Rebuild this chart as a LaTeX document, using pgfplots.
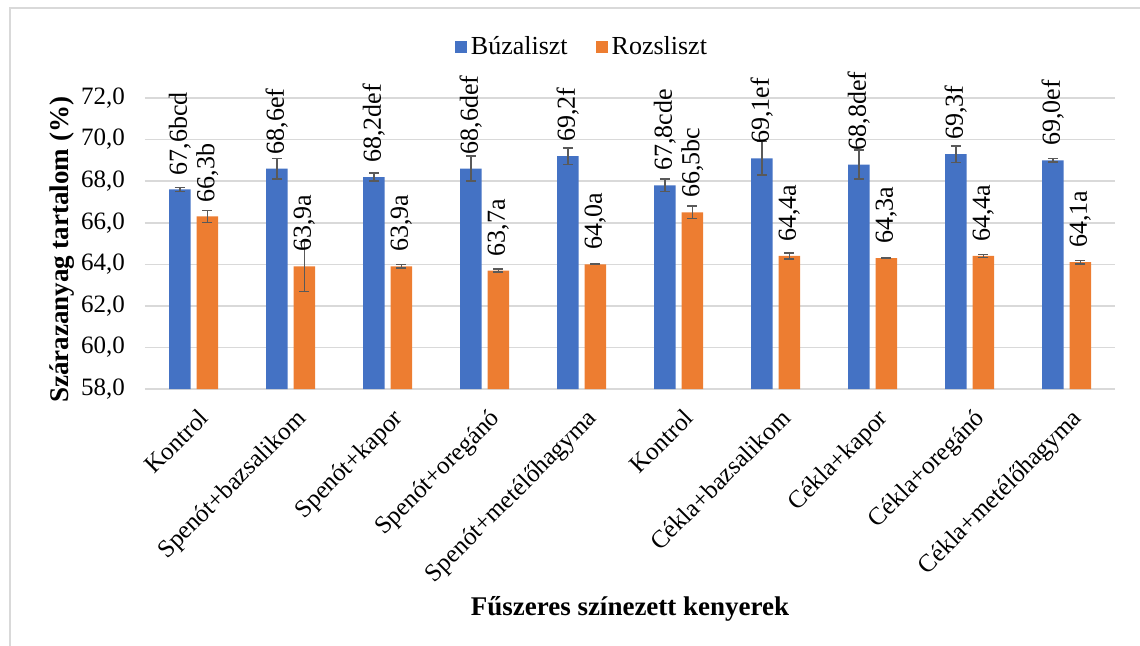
\documentclass[border=0pt]{standalone}
\usepackage{pgfplots}
\pgfplotsset{compat=1.18}
\usepackage{fontspec}
\setmainfont{Liberation Serif}
\definecolor{cblue}{HTML}{4472C4}
\definecolor{corange}{HTML}{ED7D31}
\definecolor{cgrid}{HTML}{D9D9D9}
\definecolor{cerr}{HTML}{595959}
\begin{document}
\begin{tikzpicture}
\useasboundingbox (0,0) rectangle (570pt,-322.5pt);
\draw[cgrid, line width=0.8pt] (5pt,-4pt) rectangle (600pt,-340pt);
\begin{axis}[
  at={(72.5pt,-194.5pt)}, anchor=south west,
  scale only axis, width=485pt, height=145.5pt,
  xmin=-0.5, xmax=9.5, ymin=58, ymax=72,
  ybar=3pt, bar width=10.75pt,
  clip=false,
  axis line style={draw=none},
  major tick length=0pt,
  ymajorgrids, grid style={cgrid, line width=0.8pt},
  ytick={58,60,...,72},
  xtick={0,...,9},
  xticklabels={Kontrol,Spenót+bazsalikom,Spenót+kapor,Spenót+oregánó,Spenót+metélőhagyma,Kontrol,Cékla+bazsalikom,Cékla+kapor,Cékla+oregánó,Cékla+metélőhagyma},
  xticklabel style={yshift=-9pt, xshift=2pt, rotate=45, anchor=north east, inner sep=0pt, font=\fontsize{12.5}{14}\selectfont},
  yticklabel style={xshift=-6.5pt, font=\fontsize{12.5}{14}\selectfont},
  /pgf/number format/.cd, fixed, fixed zerofill, precision=1, use comma, assume math mode=true,
  /pgfplots/.cd,
  ylabel={Szárazanyag tartalom (\%)},
  ylabel style={at={(axis description cs:-0.0856,0.478)}, anchor=center, font=\bfseries\fontsize{13.5}{15}\selectfont},
  xlabel={Fűszeres színezett kenyerek},
  xlabel style={at={(axis description cs:0.5,-0.755)}, anchor=center, font=\bfseries\fontsize{13.5}{15}\selectfont},
  legend style={at={(axis description cs:0.4515,1.175)}, anchor=center, draw=none, fill=none,
    legend columns=2, font=\fontsize{13}{15}\selectfont,
    /tikz/every even column/.append style={column sep=12pt}},
  legend image code/.code={\fill[#1] (0pt,-3pt) rectangle (6pt,3pt);},
  point meta=explicit symbolic,
  nodes near coords,
  nodes near coords style={rotate=90, anchor=west, inner xsep=7pt, inner ysep=0pt, black, font=\fontsize{13}{15}\selectfont},
]
\addplot[fill=cblue, draw=none,
  error bars/.cd, y dir=both, y explicit,
  error bar style={cerr, line width=0.75pt},
  error mark options={rotate=90, cerr, mark size=2.5pt, line width=0.75pt}]
  table[x=x, y=y, y error=e, meta=l] {
x y e l
0 67.6 0.1 67,6bcd
1 68.6 0.5 68,6ef
2 68.2 0.2 68,2def
3 68.6 0.6 68,6def
4 69.2 0.4 69,2f
5 67.8 0.3 67,8cde
6 69.1 0.8 69,1ef
7 68.8 0.7 68,8def
8 69.3 0.4 69,3f
9 69.0 0.08 69,0ef
};
\addlegendentry{Búzaliszt}
\addplot[fill=corange, draw=none,
  error bars/.cd, y dir=both, y explicit,
  error bar style={cerr, line width=0.75pt},
  error mark options={rotate=90, cerr, mark size=2.5pt, line width=0.75pt}]
  table[x=x, y=y, y error=e, meta=l] {
x y e l
0 66.3 0.3 66,3b
1 63.9 1.2 63,9a
2 63.9 0.08 63,9a
3 63.7 0.07 63,7a
4 64.0 0.02 64,0a
5 66.5 0.3 66,5bc
6 64.4 0.15 64,4a
7 64.3 0.02 64,3a
8 64.4 0.08 64,4a
9 64.1 0.08 64,1a
};
\addlegendentry{Rozsliszt}
\end{axis}
\end{tikzpicture}
\end{document}
